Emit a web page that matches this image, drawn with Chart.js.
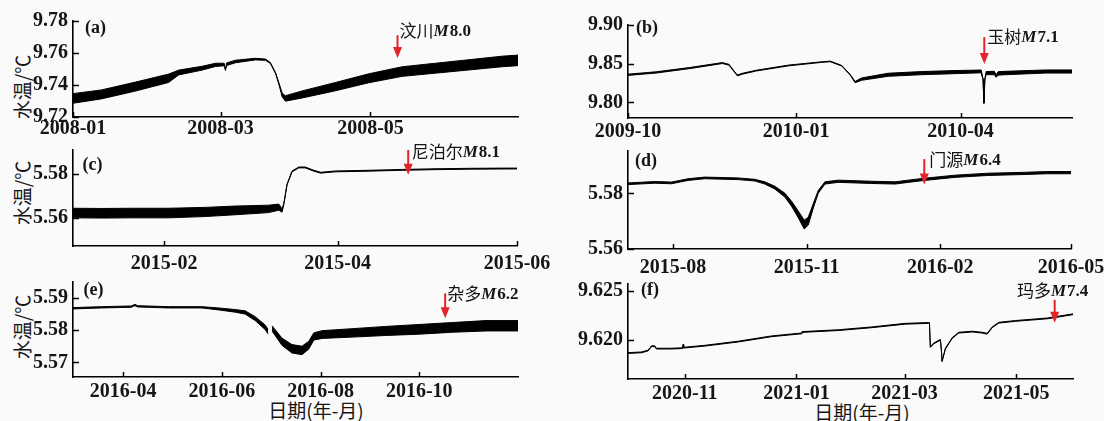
<!DOCTYPE html>
<html><head><meta charset="utf-8">
<script src="https://cdn.jsdelivr.net/npm/chart.js@4.4.1/dist/chart.umd.min.js"></script>
<style>
html,body{margin:0;padding:0;background:#fafafa;width:1104px;height:421px;overflow:hidden;position:relative;}
canvas{position:absolute;}
.yt{position:absolute;font:19px 'Noto Sans CJK SC';transform:translate(-50%,-50%) rotate(-90deg);white-space:nowrap;color:#151515;}
.xt{position:absolute;font:19px 'Noto Sans CJK SC';transform:translate(-50%,-50%);white-space:nowrap;color:#151515;}
</style></head><body>
<div class="yt" style="left:21px;top:87px">水温/℃</div>
<div class="yt" style="left:21px;top:193px">水温/℃</div>
<div class="yt" style="left:21px;top:327px">水温/℃</div>
<div class="xt" style="left:316px;top:409px">日期(年-月)</div>
<div class="xt" style="left:862px;top:411px">日期(年-月)</div>
<script>
// ---------- data (days counted from each panel's start date) ----------
const panelTags   = ['(a)', '(b)', '(c)', '(d)', '(e)', '(f)'];
const panelStarts = ['2008-01-01', '2009-10-01', '2015-01-01', '2015-07-01', '2016-03-01', '2020-10-01'];
const panelEnds   = ['2008-06-30', '2010-06-01', '2015-06-01', '2016-05-01', '2016-12-01', '2021-06-01'];
const quakeNames  = ['汶川', '玉树', '尼泊尔', '门源', '杂多', '玛多'];
const quakeMags   = ['8.0', '7.1', '8.1', '6.4', '6.2', '7.4'];
const quakeDates  = ['2008-05-12', '2010-04-14', '2015-04-25', '2016-01-21', '2016-10-17', '2021-05-22'];

const aXLabels = ['2008-01', '2008-03', '2008-05'];
const aYLabels = ['9.72', '9.74', '9.76', '9.78'];
const aDays  = [0, 11.5, 25.4, 38.9, 43, 52.5, 58, 61.5, 62, 62.5, 66.1, 74.2, 78.3, 80.3, 82.4, 83.7, 85.1, 86.4, 93.2, 106.8, 120.3, 133.9, 147.4, 161, 174.5, 181];
const aVals  = [9.7316, 9.7341, 9.7390, 9.7442, 9.7478, 9.7505, 9.7526, 9.7528, 9.7495, 9.7530, 9.7547, 9.7562, 9.7558, 9.7537, 9.7474, 9.7411, 9.7337, 9.7316, 9.7341, 9.7390, 9.7442, 9.7484, 9.7505, 9.7526, 9.7547, 9.7554];
const aNoise = [0.0030, 0.0028, 0.0028, 0.0026, 0.0015, 0.0012, 0.0010, 0.0008, 0.0004, 0.0008, 0.0008, 0.0005, 0.0004, 0.0003, 0.0003, 0.0005, 0.0012, 0.0017, 0.0022, 0.0026, 0.0028, 0.0030, 0.0031, 0.0032, 0.0033, 0.0033];

const bXLabels = ['2009-10', '2010-01', '2010-04'];
const bYLabels = ['9.80', '9.85', '9.90'];
const bDays  = [0, 15.4, 33.6, 51.7, 55.3, 58.1, 59.9, 62.6, 69.9, 88, 106.2, 110.7, 117, 121.6, 124.3, 127.9, 142.4, 160.6, 178.7, 193.3, 194.3, 194.8, 195.3, 196, 200.5, 201.5, 202.5, 206, 228.6, 243];
const bVals  = [9.8358, 9.8388, 9.8444, 9.8509, 9.8487, 9.8401, 9.8349, 9.8371, 9.8410, 9.8478, 9.8522, 9.8530, 9.8474, 9.8358, 9.8263, 9.8302, 9.8358, 9.8379, 9.8392, 9.8401, 9.8300, 9.7991, 9.8300, 9.8380, 9.8380, 9.8340, 9.8375, 9.8380, 9.8400, 9.8400];
const bNoise = [0.0008, 0.0008, 0.0007, 0.0006, 0.0005, 0.0005, 0.0006, 0.0006, 0.0005, 0.0005, 0.0004, 0.0004, 0.0004, 0.0004, 0.0008, 0.0015, 0.0020, 0.0020, 0.0020, 0.0018, 0.0005, 0.0002, 0.0005, 0.0020, 0.0022, 0.0015, 0.0022, 0.0022, 0.0020, 0.0020];

const cXLabels = ['2015-02', '2015-04', '2015-06'];
const cYLabels = ['5.56', '5.58'];
const cDays  = [0, 10, 20, 32.4, 45, 55, 66.5, 70, 71.1, 71.7, 72.8, 74.5, 76.8, 79, 81.9, 84.2, 89.3, 100.7, 112, 123.5, 134.9, 146.8, 151];
const cVals  = [5.5621, 5.5620, 5.5621, 5.5621, 5.5626, 5.5633, 5.5640, 5.5648, 5.5633, 5.5663, 5.5752, 5.5812, 5.5830, 5.5830, 5.5815, 5.5806, 5.5812, 5.5815, 5.5819, 5.5822, 5.5824, 5.5825, 5.5825];
const cNoise = [0.0022, 0.0022, 0.0022, 0.0022, 0.0021, 0.0020, 0.0017, 0.0014, 0.0008, 0.0003, 0.0002, 0.0002, 0.0002, 0.0002, 0.0002, 0.0002, 0.0002, 0.0002, 0.0002, 0.0002, 0.0002, 0.0002, 0.0002];

const dXLabels = ['2015-08', '2015-11', '2016-02', '2016-05'];
const dYLabels = ['5.56', '5.58'];
const dDays  = [0, 18.4, 29.9, 41.3, 52.8, 75.8, 87.3, 94.2, 101.1, 108, 112.6, 117.2, 121.3, 124.1, 127.6, 131, 135.6, 144.8, 167.8, 183.9, 202.3, 225.3, 248.2, 271.2, 288.6, 305];
const dVals  = [5.5835, 5.5840, 5.5838, 5.5850, 5.5856, 5.5853, 5.5848, 5.5838, 5.5821, 5.5794, 5.5763, 5.5725, 5.5688, 5.5700, 5.5756, 5.5806, 5.5838, 5.5844, 5.5840, 5.5838, 5.5850, 5.5862, 5.5869, 5.5872, 5.5875, 5.5875];
const dNoise = [0.0003, 0.0003, 0.0003, 0.0003, 0.0003, 0.0003, 0.0003, 0.0004, 0.0005, 0.0007, 0.0009, 0.0012, 0.0016, 0.0014, 0.0008, 0.0005, 0.0004, 0.0004, 0.0004, 0.0004, 0.0004, 0.0004, 0.0004, 0.0004, 0.0004, 0.0004];

const eXLabels = ['2016-04', '2016-06', '2016-08', '2016-10'];
const eYLabels = ['5.57', '5.58', '5.59'];
const eDays  = [0, 17.6, 36, 38.2, 40, 58.9, 79.6, 89.9, 100.2, 106.4, 112.6, 118.8, 120.5, 121.5, 123, 129.1, 135.3, 141.5, 145.7, 148.8, 153.9, 172.5, 193.2, 213.9, 234.5, 255.2, 266.5, 275];
const eVals  = [5.5867, 5.5870, 5.5872, 5.5877, 5.5873, 5.5870, 5.5870, 5.5865, 5.5859, 5.5854, 5.5835, 5.5808, 5.5795, null, 5.5805, 5.5764, 5.5742, 5.5737, 5.5753, 5.5780, 5.5786, 5.5791, 5.5797, 5.5802, 5.5808, 5.5813, 5.5813, 5.5813];
const eNoise = [0.0002, 0.0002, 0.0002, 0.0002, 0.0002, 0.0002, 0.0002, 0.0003, 0.0004, 0.0005, 0.0006, 0.0007, 0.0007, 0, 0.0008, 0.0011, 0.0013, 0.0013, 0.0012, 0.0011, 0.0012, 0.0013, 0.0014, 0.0015, 0.0015, 0.0016, 0.0016, 0.0016];

const fXLabels = ['2020-11', '2021-01', '2021-03', '2021-05'];
const fYLabels = ['9.620', '9.625'];
const fDays  = [0, 7.3, 10.9, 12.3, 12.8, 14.6, 15.5, 23.7, 29.8, 30.1, 30.4, 42, 60.2, 78.4, 94.5, 95, 115, 133.2, 151.4, 164.2, 164.6, 165.1, 167, 170.6, 171.1, 171.5, 173.3, 177, 180.6, 187.9, 193.4, 196.1, 198.9, 202.5, 211.7, 229, 243];
const fVals  = [9.61865, 9.61872, 9.61890, 9.61920, 9.61935, 9.61935, 9.61910, 9.61910, 9.61915, 9.61950, 9.61920, 9.61940, 9.61982, 9.62036, 9.62065, 9.62080, 9.62099, 9.62128, 9.62164, 9.62172, 9.62172, 9.61927, 9.61964, 9.62000, 9.61900, 9.61781, 9.61909, 9.62018, 9.62073, 9.62084, 9.62073, 9.62062, 9.62128, 9.62175, 9.62193, 9.62219, 9.62261];
const fNoise = fDays.map(() => 0.00004);

// ---------- layout / styling (page pixels) ----------
const panels = [
  {days:aDays, vals:aVals, noise:aNoise, xl:aXLabels, yl:aYLabels, ymin:9.72, ymax:9.78,
   box:{cx:0, cy:0, cw:560, ch:145}, area:{l:73, t:21, r:518, b:117}, xpad:0,
   tag:{dx:12, dy:7.5}, arrow:{top:9.7711, bot:9.7568, ty:9.7742, dx:2}},
  {days:bDays, vals:bVals, noise:bNoise, xl:bXLabels, yl:bYLabels, ymin:9.78, ymax:9.90,
   box:{cx:560, cy:0, cw:544, ch:145}, area:{l:628, t:25, r:1072, b:118}, xpad:2,
   tag:{dx:8, dy:3}, arrow:{top:9.8843, bot:9.8497, ty:9.8855, dx:3}},
  {days:cDays, vals:cVals, noise:cNoise, xl:cXLabels, yl:cYLabels, ymin:5.547, ymax:5.591,
   box:{cx:0, cy:140, cw:560, ch:140}, area:{l:73, t:150, r:517, b:246}, xpad:6,
   tag:{dx:9.5, dy:15.5}, arrow:{top:5.5910, bot:5.5797, ty:5.5903, dx:3.5}},
  {days:dDays, vals:dVals, noise:dNoise, xl:dXLabels, yl:dYLabels, ymin:5.56, ymax:5.5953,
   box:{cx:560, cy:140, cw:544, ch:140}, area:{l:628, t:151, r:1071, b:249}, xpad:6.5,
   tag:{dx:7, dy:10.5}, arrow:{top:5.5924, bot:5.5832, ty:5.5922, dx:5}},
  {days:eDays, vals:eVals, noise:eNoise, xl:eXLabels, yl:eYLabels, ymin:5.5655, ymax:5.5948,
   box:{cx:0, cy:272, cw:560, ch:149}, area:{l:73, t:282, r:518, b:377}, xpad:3,
   tag:{dx:10.5, dy:8.7}, arrow:{top:5.5913, bot:5.5836, ty:5.5911, dx:2}},
  {days:fDays, vals:fVals, noise:fNoise, xl:fXLabels, yl:fYLabels, ymin:9.616, ymax:9.6257,
   box:{cx:560, cy:272, cw:544, ch:149}, area:{l:628, t:284, r:1073, b:379}, xpad:3,
   tag:{dx:13, dy:6.5}, arrow:{top:9.62408, bot:9.62174, ty:9.62504, dx:-2, center:true}}
];

const TICK_FONT = {family:'Liberation Serif', size:20, weight:'bold'};
const INK = '#151515';
const RED = '#e3232b';

function ymd(s) { const p = s.split('-').map(Number); return Date.UTC(p[0], p[1] - 1, p[2] || 1); }
function dayOf(s, start) { return (ymd(s) - ymd(start)) / 864e5; }

panels.forEach((p, k) => {
  const start = panelStarts[k];
  const xMax = dayOf(panelEnds[k], start);
  const xTicks = p.xl.map(l => dayOf(l, start));
  const yTicks = p.yl.map(parseFloat);
  const quakeDay = dayOf(quakeDates[k], start);

  const hi = p.days.map((d, i) => ({x: d, y: p.vals[i] == null ? null : p.vals[i] + p.noise[i]}));
  const lo = p.days.map((d, i) => ({x: d, y: p.vals[i] == null ? null : p.vals[i] - p.noise[i]}));

  const cv = document.createElement('canvas');
  cv.width = p.box.cw; cv.height = p.box.ch;
  cv.style.left = p.box.cx + 'px'; cv.style.top = p.box.cy + 'px';
  cv.style.width = p.box.cw + 'px'; cv.style.height = p.box.ch + 'px';
  document.body.appendChild(cv);

  const deco = {
    id: 'deco' + k,
    afterDraw(chart) {
      const ctx = chart.ctx, xs = chart.scales.x, ys = chart.scales.y, ca = chart.chartArea;
      ctx.save();
      // inward tick marks
      ctx.strokeStyle = '#000'; ctx.lineWidth = 1.5;
      xTicks.forEach(v => { const px = Math.round(xs.getPixelForValue(v)) + 0.5; ctx.beginPath(); ctx.moveTo(px, ca.bottom); ctx.lineTo(px, ca.bottom - 5); ctx.stroke(); });
      yTicks.forEach(v => { const py = Math.round(ys.getPixelForValue(v)) + 0.5; ctx.beginPath(); ctx.moveTo(ca.left, py); ctx.lineTo(ca.left + 6, py); ctx.stroke(); });
      // panel tag
      ctx.fillStyle = INK; ctx.textBaseline = 'middle'; ctx.textAlign = 'left';
      ctx.font = 'bold 18px "Liberation Serif"';
      ctx.fillText(panelTags[k], ca.left + p.tag.dx, ca.top + p.tag.dy);
      // quake arrow
      const ax = xs.getPixelForValue(quakeDay);
      const y1 = ys.getPixelForValue(p.arrow.top), y2 = ys.getPixelForValue(p.arrow.bot);
      ctx.strokeStyle = RED; ctx.fillStyle = RED; ctx.lineWidth = 2;
      ctx.beginPath(); ctx.moveTo(ax, y1); ctx.lineTo(ax, y2 - 8); ctx.stroke();
      ctx.beginPath(); ctx.moveTo(ax - 4.5, y2 - 11); ctx.lineTo(ax + 4.5, y2 - 11); ctx.lineTo(ax, y2); ctx.closePath(); ctx.fill();
      // quake label
      const f1 = '17px "Noto Sans CJK SC"', f2 = 'italic bold 17px "Liberation Serif"', f3 = 'bold 17px "Liberation Serif"';
      ctx.font = f1; const w1 = ctx.measureText(quakeNames[k]).width;
      ctx.font = f2; const w2 = ctx.measureText('M').width + 1;
      ctx.font = f3; const w3 = ctx.measureText(quakeMags[k]).width;
      let sx = p.arrow.center ? ax + p.arrow.dx - (w1 + w2 + w3) / 2 : ax + p.arrow.dx;
      const ty = ys.getPixelForValue(p.arrow.ty);
      ctx.fillStyle = INK;
      ctx.font = f1; ctx.fillText(quakeNames[k], sx, ty);
      ctx.font = f2; ctx.fillText('M', sx + w1, ty + 1);
      ctx.font = f3; ctx.fillText(quakeMags[k], sx + w1 + w2, ty + 1);
      ctx.restore();
    }
  };

  new Chart(cv, {
    type: 'line',
    data: {datasets: [
      {data: hi, borderColor: '#000', borderWidth: 1, backgroundColor: '#000', fill: '+1', pointRadius: 0, tension: 0},
      {data: lo, borderColor: '#000', borderWidth: 1, fill: false, pointRadius: 0, tension: 0}
    ]},
    options: {
      responsive: false, animation: false, devicePixelRatio: 1,
      layout: {padding: {top: p.area.t - p.box.cy, right: p.box.cx + p.box.cw - p.area.r, left: 0, bottom: 0}},
      plugins: {legend: {display: false}, tooltip: {enabled: false}, title: {display: false}},
      scales: {
        x: {
          type: 'linear', min: 0, max: xMax,
          grid: {display: false, drawTicks: false},
          border: {display: true, color: '#000', width: 1.6},
          afterBuildTicks: s => { s.ticks = xTicks.map(v => ({value: v})); },
          ticks: {autoSkip: false, maxRotation: 0, minRotation: 0, padding: p.xpad, color: INK, font: TICK_FONT,
                  callback: (v, i) => p.xl[i]},
          afterFit: s => { s.height = p.box.cy + p.box.ch - p.area.b; s.paddingLeft = 0; s.paddingRight = 0; }
        },
        y: {
          type: 'linear', min: p.ymin, max: p.ymax,
          grid: {display: false, drawTicks: false},
          border: {display: true, color: '#000', width: 1.6},
          afterBuildTicks: s => { s.ticks = yTicks.map(v => ({value: v})); },
          ticks: {autoSkip: false, padding: 5, color: INK, font: TICK_FONT, callback: (v, i) => p.yl[i]},
          afterFit: s => { s.width = p.area.l - p.box.cx; s.paddingTop = 0; s.paddingBottom = 0; }
        }
      }
    },
    plugins: [deco]
  });
});
</script>
</body></html>
